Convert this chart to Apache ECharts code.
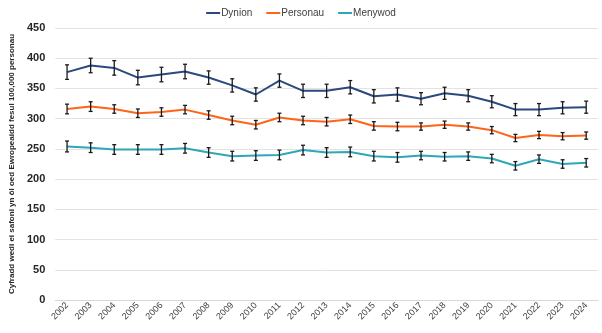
<!DOCTYPE html>
<html>
<head>
<meta charset="utf-8">
<script src="https://cdn.jsdelivr.net/npm/echarts@6/dist/echarts.min.js"></script>
<style>
  html, body { margin: 0; padding: 0; background: #ffffff; }
  #chart { width: 602px; height: 333px; }
</style>
</head>
<body>
<div id="chart"></div>
<script>
// Years on the category axis
const years = ['2002','2003','2004','2005','2006','2007','2008','2009','2010','2011','2012',
  '2013','2014','2015','2016','2017','2018','2019','2020','2021','2022','2023','2024'];

// Age-standardised rates per 100,000
const dynion   = [377, 388, 384, 368, 373, 378, 368, 355, 340, 363, 346, 346, 352, 337, 340, 333, 342, 338, 328, 315, 315, 318, 319];
const personau = [316, 320, 316, 309, 311, 315, 306, 297, 290, 302, 297, 295, 299, 288, 287, 287, 290, 287, 281, 268, 273, 271, 272];
const menywod  = [254, 252, 249, 249, 249, 251, 244, 238, 239, 240, 248, 244, 245, 238, 236, 239, 237, 238, 234, 222, 233, 225, 227];

// Half-width of the 95% confidence interval for each point
const dynionCI   = [12, 12, 12, 12, 12, 12, 11, 11, 11, 11, 11, 11, 11, 11, 11, 10, 10, 10, 10, 10, 10, 10, 10];
const personauCI = [8, 8, 7, 7, 7, 7, 7, 7, 7, 7, 7, 7, 7, 7, 7, 6, 6, 6, 6, 6, 6, 6, 6];
const menywodCI  = [9, 8, 8, 8, 8, 8, 8, 8, 8, 8, 8, 8, 8, 8, 8, 7, 7, 7, 7, 7, 7, 7, 7];

// Y axis range
const yMin = 0, yMax = 450, yStep = 50;

const colors = { dynion: '#2a4a7f', personau: '#ff6418', menywod: '#2ea7b8' };

function errorData(vals, ci) {
  return vals.map((v, i) => [i, v - ci[i], v + ci[i]]);
}

function renderErrorBar(params, api) {
  const x = api.value(0);
  const lo = api.coord([x, api.value(1)]);
  const hi = api.coord([x, api.value(2)]);
  const cap = 2;
  const style = { stroke: '#1a1a1a', lineWidth: 1.3 };
  return {
    type: 'group',
    children: [
      { type: 'line', shape: { x1: lo[0], y1: lo[1], x2: hi[0], y2: hi[1] }, style },
      { type: 'line', shape: { x1: lo[0] - cap, y1: lo[1], x2: lo[0] + cap, y2: lo[1] }, style },
      { type: 'line', shape: { x1: hi[0] - cap, y1: hi[1], x2: hi[0] + cap, y2: hi[1] }, style }
    ]
  };
}

function lineSeries(name, data, color) {
  return {
    name, type: 'line', data, symbol: 'none', z: 2,
    lineStyle: { color, width: 2 }, itemStyle: { color }
  };
}

function errSeries(data) {
  return {
    type: 'custom', renderItem: renderErrorBar, data, z: 3,
    encode: { x: 0, y: [1, 2] }, silent: true
  };
}

const chart = echarts.init(document.getElementById('chart'), null, { renderer: 'canvas' });
chart.setOption({
  animation: false,
  textStyle: { fontFamily: 'Liberation Sans, Arial, sans-serif' },
  legend: {
    top: 3, left: 'center',
    data: ['Dynion', 'Personau', 'Menywod'],
    icon: 'rect', itemWidth: 14, itemHeight: 2, itemGap: 14,
    textStyle: { fontSize: 10, color: '#404040', padding: [0, 0, 0, -4] }
  },
  grid: { left: 48, right: 4, top: 28, bottom: 33, containLabel: false },
  xAxis: {
    type: 'category', data: years, boundaryGap: true,
    axisLine: { lineStyle: { color: '#d9d9d9' } },
    axisTick: { show: false },
    axisLabel: { rotate: 45, fontSize: 9, color: '#404040', margin: 4, interval: 0 }
  },
  yAxis: {
    type: 'value', min: yMin, max: yMax, interval: yStep,
    name: 'Cyfradd wedi ei safoni yn ôl oed Ewropeaidd fesul 100,000 personau',
    nameLocation: 'middle', nameGap: 37, nameRotate: 90,
    nameTextStyle: { fontSize: 8, fontWeight: 'bold', color: '#262626' },
    axisLine: { show: false }, axisTick: { show: false },
    axisLabel: { fontSize: 11, fontWeight: 'bold', color: '#262626', margin: 10 },
    splitLine: { lineStyle: { color: '#e3e3e3', width: 1 } }
  },
  series: [
    lineSeries('Dynion', dynion, colors.dynion),
    lineSeries('Personau', personau, colors.personau),
    lineSeries('Menywod', menywod, colors.menywod),
    errSeries(errorData(dynion, dynionCI)),
    errSeries(errorData(personau, personauCI)),
    errSeries(errorData(menywod, menywodCI))
  ]
});
</script>
</body>
</html>
